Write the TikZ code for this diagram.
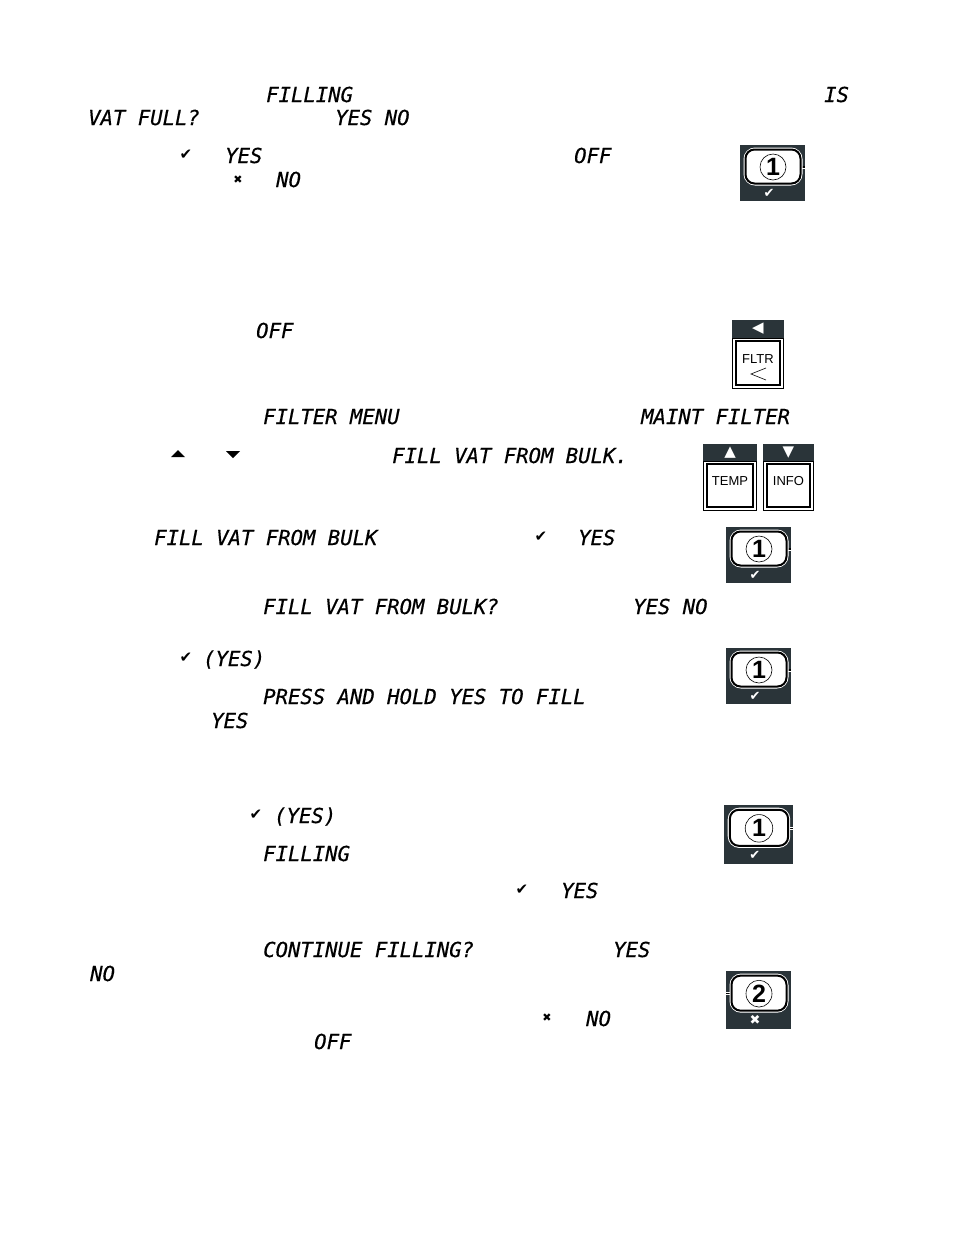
\documentclass[tikz,border=0pt]{standalone}
\usepackage{fontspec}
\setmainfont{Liberation Sans}
\newfontfamily\lcdfont{DejaVu Sans Mono}[FakeBold=0.5]
\newfontfamily\symfont{DejaVu Sans}
\definecolor{keydark}{HTML}{2A3439}
\tikzset{
  lcd/.style={anchor=base west, inner sep=0pt, font=\lcdfont\itshape\fontsize{20.6}{20.6}\selectfont},
  symb/.style={inner sep=0pt, font=\symfont\fontsize{#1}{#1}\selectfont},
  keytext/.style={inner sep=0pt, font=\fontsize{13}{13}\selectfont},
  pics/numkey/.style n args={4}{code={
    \fill[keydark] (0,0) rectangle (65,56);
    \draw[white, line width=3pt] (#3,22) -- (#4,22);
    \draw[black, line width=1.6pt] (#3,22) -- (#4,22);
    \draw[fill=white, draw=white, line width=1pt, rounded corners=11pt] (4,3) rectangle (62,40);
    \draw[black, line width=2pt, rounded corners=9pt] (5.5,4.5) rectangle (60.5,38.5);
    \draw[black, line width=0.6pt] (33,22) circle (13);
    \node[inner sep=0pt, font=\bfseries\fontsize{25}{25}\selectfont] (-digit) at (33,22) {#1};
    \node[symb=13, text=white] (-sign) at (29,48) {#2};
  }},
  pics/panelkey/.style n args={3}{code={
    \fill[keydark] (0,0) rectangle (52,18);
    \draw[black, line width=0.8pt] (0.5,18) rectangle (51.5,68);
    \draw[black, line width=1.8pt] (4,21) rectangle (48,65);
    \node[symb=15, text=white] (-arrow) at (26,8.5) {#1};
    \node[keytext] (-label) at (26,#3) {#2};
  }},
}
\begin{document}
\begin{tikzpicture}[x=1pt, y=-1pt]
  \useasboundingbox (0,0) rectangle (954,1235);
  % first block
  \node[lcd] (fillingA) at (266,102) {FILLING};
  \node[lcd] (isword) at (824,102) {IS};
  \node[lcd] (vatfull) at (88,125) {VAT FULL?};
  \node[lcd] (yesnoA) at (335,125) {YES NO};
  \node[symb=15] (checkA) at (186,155) {✔};
  \node[lcd] (yesA) at (225,163) {YES};
  \node[lcd] (offA) at (574,163) {OFF};
  \node[symb=11] (crossA) at (238,180) {✖};
  \node[lcd] (noA) at (276,187) {NO};
  \pic (keyA) at (740,145) {numkey={1}{✔}{60}{65}};
  % filter menu
  \node[lcd] (offB) at (256,338) {OFF};
  \pic (keyfltr) at (732,320) {panelkey={◀}{FLTR}{39}};
  \draw[black, line width=0.6pt] (766,368) -- (751,374) -- (766,380);
  \node[lcd] (filtermenu) at (263,424) {FILTER MENU};
  \node[lcd] (maintfilter) at (641,424) {MAINT FILTER};
  \fill[black] (171,457) -- (185,457) -- (178,450) -- cycle;
  \fill[black] (226,451) -- (240,451) -- (233,458) -- cycle;
  \node[lcd] (fillvatA) at (392,463) {FILL VAT FROM BULK.};
  \pic[yscale=0.97, xscale=1.04] (keytemp) at (703,444) {panelkey={▲}{TEMP}{38}};
  \pic[yscale=0.97, xscale=0.98] (keyinfo) at (763,444) {panelkey={▼}{INFO}{38}};
  % fill from bulk
  \node[lcd] (fillvatB) at (154,545) {FILL VAT FROM BULK};
  \node[symb=15] (checkB) at (541,537) {✔};
  \node[lcd] (yesB) at (578,545) {YES};
  \pic (keyB) at (726,527) {numkey={1}{✔}{60}{65}};
  \node[lcd] (fillvatC) at (263,614) {FILL VAT FROM BULK?};
  \node[lcd] (yesnoB) at (633,614) {YES NO};
  \node[symb=15] (checkC) at (186,658) {✔};
  \node[lcd] (yesC) at (203,666) {(YES)};
  \pic (keyC) at (726,648) {numkey={1}{✔}{60}{65}};
  \node[lcd] (pressyes) at (263,704) {PRESS AND HOLD YES TO FILL};
  \node[lcd] (yesD) at (211,728) {YES};
  \node[symb=15] (checkD) at (256,815) {✔};
  \node[lcd] (yesE) at (274,823) {(YES)};
  \pic[scale=1.06] (keyD) at (724,805) {numkey={1}{✔}{60}{65}};
  \node[lcd] (fillingB) at (263,861) {FILLING};
  \node[symb=15] (checkE) at (522,890) {✔};
  \node[lcd] (yesF) at (561,898) {YES};
  % continue filling
  \node[lcd] (contfill) at (263,957) {CONTINUE FILLING?};
  \node[lcd] (yesG) at (613,957) {YES};
  \node[lcd] (noB) at (90,981) {NO};
  \node[symb=11] (crossB) at (547,1018) {✖};
  \node[lcd] (noC) at (586,1026) {NO};
  \pic[yscale=1.03] (keyE) at (726,971) {numkey={2}{✖}{0}{4}};
  \node[lcd] (offC) at (314,1049) {OFF};
\end{tikzpicture}
\end{document}
